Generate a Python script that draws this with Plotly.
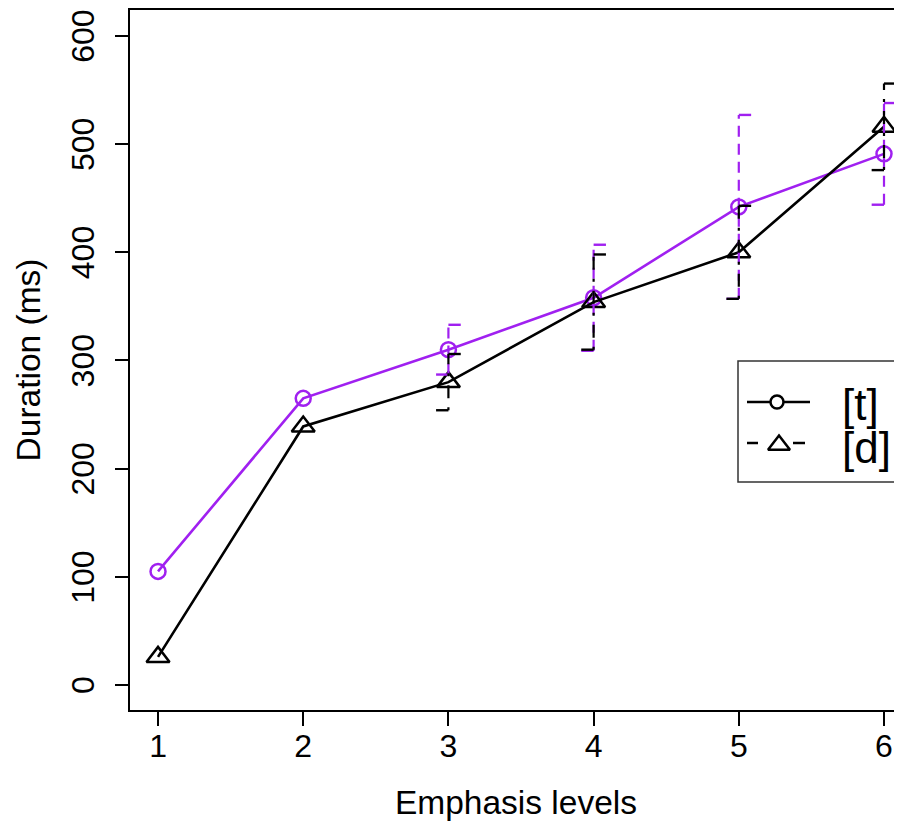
import plotly.graph_objects as go

# ---- data ----
levels = [1, 2, 3, 4, 5, 6]
t_mean = [105, 265, 310, 358, 442, 491]   # [t], purple, circles
t_se = [0, 0, 23, 49, 85, 47]
d_mean = [26, 239, 280, 354, 400, 516]    # [d], black, triangles
d_se = [0, 0, 26, 44, 43, 40]
x_ticks = [1, 2, 3, 4, 5, 6]
y_ticks = [0, 100, 200, 300, 400, 500, 600]
legend_labels = ["[t]", "[d]"]

PURPLE = "#A020F0"
BLACK = "#000000"
FONT = "Liberation Sans, Arial, Helvetica, sans-serif"
CAP = 0.085

fig = go.Figure()


def err_traces(xs, means, ses, color, dash):
    vx, vy, cx, cy = [], [], [], []
    for x, m, s in zip(xs, means, ses):
        if s <= 0:
            continue
        vx += [x, x, None]
        vy += [m - s, m + s, None]
        cx += [x, x + CAP, None, x - CAP, x, None]
        cy += [m + s, m + s, None, m - s, m - s, None]
    return [
        go.Scatter(x=vx, y=vy, mode="lines", showlegend=False, hoverinfo="skip",
                   line=dict(color=color, width=2.2, dash=dash)),
        go.Scatter(x=cx, y=cy, mode="lines", showlegend=False, hoverinfo="skip",
                   line=dict(color=color, width=2.4)),
    ]


# main series
fig.add_trace(go.Scatter(
    x=levels, y=t_mean, mode="lines+markers", name=legend_labels[0], showlegend=False,
    line=dict(color=PURPLE, width=2.6),
    marker=dict(symbol="circle-open", size=15, color=PURPLE, line=dict(width=2.5, color=PURPLE)),
))
fig.add_trace(go.Scatter(
    x=levels, y=d_mean, mode="lines+markers", name=legend_labels[1], showlegend=False,
    line=dict(color=BLACK, width=2.6),
    marker=dict(symbol="triangle-up-open", size=20, color=BLACK, line=dict(width=2.5, color=BLACK)),
))
for tr in err_traces(levels, t_mean, t_se, PURPLE, "11px,7px"):
    fig.add_trace(tr)
for tr in err_traces(levels, d_mean, d_se, BLACK, "3px,9px,13px,9px"):
    fig.add_trace(tr)

# ---- hand-drawn legend (R style) on a pixel-based overlay axis ----
fig.add_trace(go.Scatter(x=[747, 810], y=[402, 402], mode="lines", xaxis="x2", yaxis="y2",
                         showlegend=False, hoverinfo="skip", line=dict(color=BLACK, width=2.5)))
fig.add_trace(go.Scatter(x=[777], y=[402], mode="markers", xaxis="x2", yaxis="y2",
                         showlegend=False, hoverinfo="skip",
                         marker=dict(symbol="circle", size=13, color="white",
                                     line=dict(width=2.5, color=BLACK))))
fig.add_trace(go.Scatter(x=[747, 758, None, 793, 805], y=[443, 443, None, 443, 443], mode="lines",
                         xaxis="x2", yaxis="y2", showlegend=False, hoverinfo="skip",
                         line=dict(color=BLACK, width=2.5)))
fig.add_trace(go.Scatter(x=[779], y=[445], mode="markers", xaxis="x2", yaxis="y2",
                         showlegend=False, hoverinfo="skip",
                         marker=dict(symbol="triangle-up-open", size=19, color=BLACK,
                                     line=dict(width=2.5, color=BLACK))))

fig.add_shape(type="rect", xref="x2", yref="y2", x0=738, x1=940, y0=361, y1=482,
              line=dict(color="#333333", width=1.5), fillcolor="rgba(0,0,0,0)")
for lab, yy in zip(legend_labels, [404, 447]):
    fig.add_annotation(x=840, y=yy, xref="x2", yref="y2", text=lab, showarrow=False,
                       xanchor="left", yanchor="middle",
                       font=dict(family=FONT, size=44, color=BLACK))

# The page body has an 8px margin, so the figure is 894x815 and shifted margins.
fig.update_layout(
    width=894, height=815,
    margin=dict(l=122, r=0, t=2, b=113, autoexpand=False),
    paper_bgcolor="white", plot_bgcolor="white",
    font=dict(family=FONT, size=32, color=BLACK),
    showlegend=False,
    xaxis=dict(
        range=[0.807, 6.124], tickvals=x_ticks, ticktext=[str(v) for v in x_ticks],
        showline=True, linecolor=BLACK, linewidth=1.6, mirror=True,
        ticks="outside", ticklen=14, tickwidth=1.6, tickcolor=BLACK,
        showgrid=False, zeroline=False, ticklabelstandoff=-7,
        ticklabeloverflow="allow", automargin=False,
        tickfont=dict(family=FONT, size=32),
        title=dict(text="Emphasis levels", font=dict(family=FONT, size=33.5), standoff=27),
    ),
    yaxis=dict(
        range=[-23.1, 624], tickvals=y_ticks, ticktext=[str(v) for v in y_ticks],
        showline=True, linecolor=BLACK, linewidth=1.6, mirror=False,
        ticks="outside", ticklen=13, tickwidth=1.6, tickcolor=BLACK,
        showgrid=False, zeroline=False, tickangle=-90, ticklabelstandoff=8,
        ticklabelshift=5,
        ticklabeloverflow="allow", automargin=False,
        tickfont=dict(family=FONT, size=32),
        title=dict(text="Duration (ms)", font=dict(family=FONT, size=33.5), standoff=15),
    ),
    xaxis2=dict(overlaying="x", range=[130, 902], visible=False, fixedrange=True),
    yaxis2=dict(overlaying="y", range=[710, 10], visible=False, fixedrange=True),
)

fig.write_html("out.html")
